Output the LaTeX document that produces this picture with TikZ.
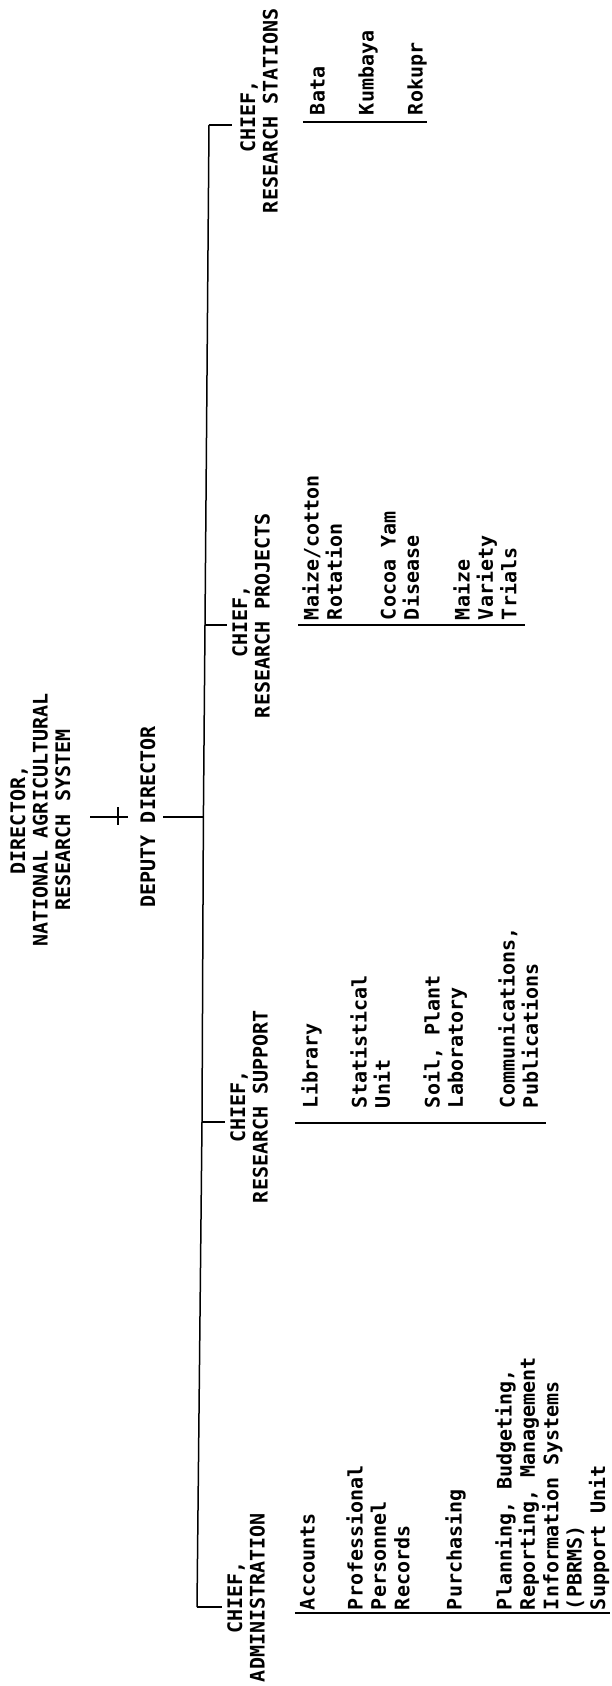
\documentclass[tikz,border=0pt]{standalone}
\usepackage{fontspec}
\newfontfamily\tw{DejaVu Sans Mono}
\begin{document}
\begin{tikzpicture}[x=1pt,y=-1pt,
  rot/.style={rotate=90, inner sep=0pt, outer sep=0pt},
  head/.style={rot, align=center, anchor=base, font=\tw\bfseries\fontsize{20}{22.5}\selectfont},
  chief/.style={rot, align=left, anchor=base west, font=\tw\bfseries\fontsize{20}{22.5}\selectfont},
  item/.style={rot, align=left, anchor=base west, font=\tw\bfseries\fontsize{20}{23.4}\selectfont},
  conn/.style={line width=1.5pt}]
\useasboundingbox[fill=white] (0,0) rectangle (612,1686);

% top of the chart (anchor = baseline of the last line)
\node[head] (dir) at (70,820) {DIRECTOR,\\NATIONAL AGRICULTURAL\\RESEARCH SYSTEM};
\node[head] (dep) at (155,817) {DEPUTY DIRECTOR};

% chiefs
\node[chief] (cst) at (277.5,213) {\hphantom{RESEA}CHIEF,\\RESEARCH STATIONS};
\node[chief] (cpr) at (269.5,718) {\hphantom{RESEA}CHIEF,\\RESEARCH PROJECTS};
\node[chief] (csu) at (267.5,1203) {\hphantom{RESEA}CHIEF,\\RESEARCH SUPPORT};
\node[chief] (cad) at (264.5,1682) {\hphantom{ADMI}CHIEF,\\ADMINISTRATION};

% research stations
\node[item] (st1) at (324.5,115) {Bata};
\node[item] (st2) at (373.5,115) {Kumbaya};
\node[item] (st3) at (422.5,115) {Rokupr};

% research projects
\node[item] (pr1) at (341.9,620) {Maize/cotton\\Rotation};
\node[item] (pr2) at (418.9,620) {Cocoa Yam\\Disease};
\node[item] (pr3) at (516.3,620) {Maize\\Variety\\Trials};

% research support
\node[item] (su1) at (317.5,1108) {Library};
\node[item] (su2) at (389.9,1108) {Statistical\\Unit};
\node[item] (su3) at (462.9,1108) {Soil, Plant\\Laboratory};
\node[item] (su4) at (537.9,1108) {Communications,\\Publications};

% administration
\node[item] (ad1) at (314.5,1610) {Accounts};
\node[item] (ad2) at (409.3,1610) {Professional\\Personnel\\Records};
\node[item] (ad3) at (461.5,1610) {Purchasing};
\node[item] (ad4) at (605.1,1610) {Planning, Budgeting,\\Reporting, Management\\Information Systems\\(PBRMS)\\Support Unit};

% spine
\coordinate (s1) at (209,125);
\coordinate (s2) at (205,625);
\coordinate (sD) at (203.4,817);
\coordinate (s3) at (202,1122);
\coordinate (s4) at (197,1607);
\draw[conn] (s1) -- (s2) -- (sD) -- (s3) -- (s4);

% director to deputy to spine
\draw[conn, shorten <=20pt, shorten >=12pt] (dep.north -| dir.south) -- (dep.north);
\draw[conn] ([shift={(-22,-10)}]dep.north) -- ([shift={(-22,8)}]dep.north);
\draw[conn, shorten <=8pt] (dep.south) -- (sD);

% spine to chiefs
\draw[conn, shorten >=8pt] (s1) -- (s1 -| cst.north);
\draw[conn, shorten >=5pt] (s2) -- (s2 -| cpr.north);
\draw[conn, shorten >=5pt] (s3) -- (s3 -| csu.north);
\draw[conn, shorten >=5pt] (s4) -- (s4 -| cad.north);

% sub-unit brackets
\draw[conn] ([shift={(-7,7)}]st1.north west) -- ([shift={(0,7)}]st3.south west);
\draw[conn] ([shift={(-4,5)}]pr1.north west) -- ([shift={(8,5)}]pr3.south west);
\draw[conn] ([shift={(-6,15)}]su1.north west) -- ([shift={(8,15)}]su4.south west);
\draw[conn] ([shift={(-5,3)}]ad1.north west) -- ([shift={(1,3)}]ad4.south west);
\end{tikzpicture}
\end{document}
